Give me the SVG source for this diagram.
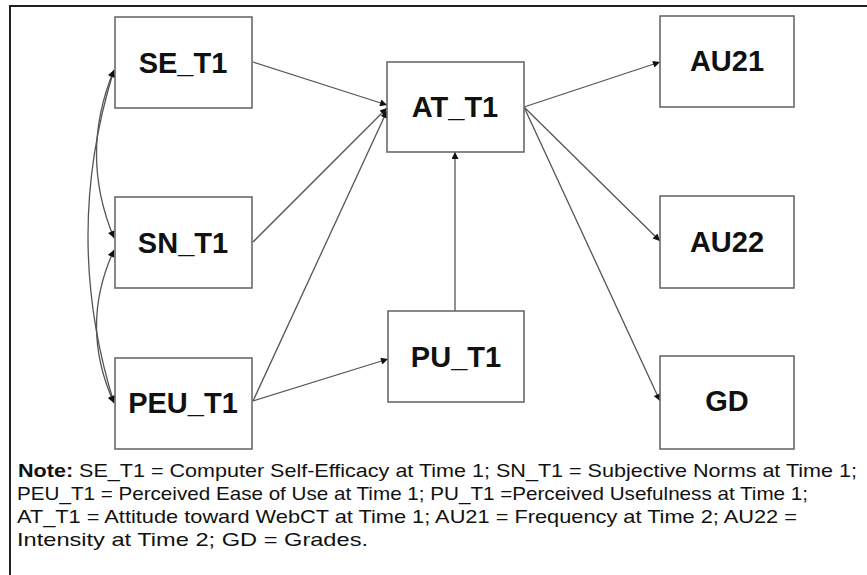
<svg xmlns="http://www.w3.org/2000/svg" width="867" height="575" viewBox="0 0 867 575">
<style>
.box{fill:#fff;stroke:#6a6a6a;stroke-width:1.6}
.lbl{font-family:"Liberation Sans",Arial,sans-serif;font-weight:bold;font-size:29px;fill:#111;text-anchor:middle}
.edge{fill:none;stroke:#555;stroke-width:1.3}
.note{font-family:"Liberation Sans",Arial,sans-serif;font-size:18.5px;fill:#111}
</style>
<defs>
<marker id="ah" viewBox="0 0 10 10" refX="10" refY="5" markerWidth="9" markerHeight="7" markerUnits="userSpaceOnUse" orient="auto-start-reverse">
<path d="M0,0 L10,5 L0,10 z" fill="#111"/>
</marker>
</defs>
<rect width="867" height="575" fill="#fff"/>
<path d="M10,575 V6 H867" fill="none" stroke="#222" stroke-width="2"/>
<g id="connectors">
<line class="edge" x1="253" y1="62" x2="387" y2="105" marker-end="url(#ah)"/>
<line class="edge" x1="253" y1="242" x2="387" y2="108" marker-end="url(#ah)"/>
<line class="edge" x1="253" y1="401" x2="387" y2="111" marker-end="url(#ah)"/>
<line class="edge" x1="253" y1="401" x2="388" y2="359" marker-end="url(#ah)"/>
<line class="edge" x1="455" y1="311" x2="455" y2="152" marker-end="url(#ah)"/>
<line class="edge" x1="524" y1="107" x2="660" y2="62" marker-end="url(#ah)"/>
<line class="edge" x1="524" y1="107" x2="660" y2="241" marker-end="url(#ah)"/>
<line class="edge" x1="524" y1="107" x2="660" y2="401" marker-end="url(#ah)"/>
<path class="edge" d="M114,70 Q79,154 114,238" marker-start="url(#ah)" marker-end="url(#ah)"/>
<path class="edge" d="M114,250 Q79,326 114,403" marker-start="url(#ah)" marker-end="url(#ah)"/>
<path class="edge" d="M114,70 Q62,236 114,403" marker-start="url(#ah)" marker-end="url(#ah)"/>
</g>
<g id="SE_T1"><rect class="box" x="115" y="17" width="137" height="91"/><text class="lbl" x="183" y="73">SE_T1</text></g>
<g id="SN_T1"><rect class="box" x="115" y="197" width="137" height="91"/><text class="lbl" x="183" y="253">SN_T1</text></g>
<g id="PEU_T1"><rect class="box" x="115" y="358" width="137" height="91"/><text class="lbl" x="183" y="413">PEU_T1</text></g>
<g id="AT_T1"><rect class="box" x="387" y="62" width="137" height="90"/><text class="lbl" x="455" y="117">AT_T1</text></g>
<g id="PU_T1"><rect class="box" x="388" y="311" width="136" height="91"/><text class="lbl" x="456" y="367">PU_T1</text></g>
<g id="AU21"><rect class="box" x="660" y="16" width="134" height="91"/><text class="lbl" x="727" y="71">AU21</text></g>
<g id="AU22"><rect class="box" x="660" y="196" width="134" height="92"/><text class="lbl" x="727" y="252">AU22</text></g>
<g id="GD"><rect class="box" x="660" y="356" width="134" height="93"/><text class="lbl" x="727" y="411">GD</text></g>
<g id="note">
<text class="note" x="18" y="477" textLength="839" lengthAdjust="spacingAndGlyphs"><tspan font-weight="bold">Note:</tspan>  SE_T1 = Computer Self-Efficacy at Time 1; SN_T1 = Subjective Norms at Time 1;</text>
<text class="note" x="17" y="500" textLength="791" lengthAdjust="spacingAndGlyphs">PEU_T1 = Perceived Ease of Use at Time 1; PU_T1 =Perceived Usefulness at Time 1;</text>
<text class="note" x="17" y="523" textLength="780" lengthAdjust="spacingAndGlyphs">AT_T1 = Attitude toward WebCT at Time 1; AU21 = Frequency at Time 2; AU22 =</text>
<text class="note" x="17" y="546" textLength="351" lengthAdjust="spacingAndGlyphs">Intensity at Time 2; GD = Grades.</text>
</g>
</svg>
